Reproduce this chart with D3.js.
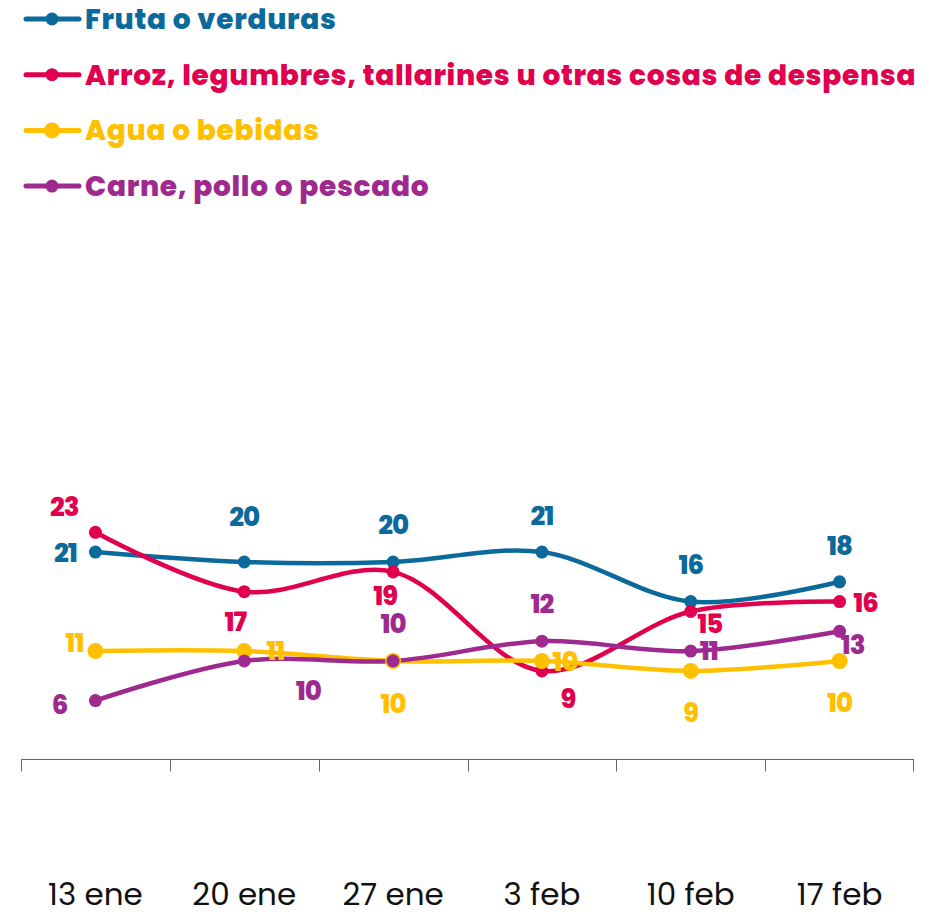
<!DOCTYPE html>
<html>
<head>
<meta charset="utf-8">
<script src="https://cdn.jsdelivr.net/npm/d3@7"></script>
<style>
  body { margin: 0; background: #fff; }
  svg { display: block; }
</style>
</head>
<body>
<svg id="chart" width="943" height="914"></svg>
<script>
// datos
let weeks = ['13 ene', '20 ene', '27 ene', '3 feb', '10 feb', '17 feb']
let seriesNames = ['Fruta o verduras', 'Arroz, legumbres, tallarines u otras cosas de despensa', 'Agua o bebidas', 'Carne, pollo o pescado']
let fruta = [21, 20, 20, 21, 16, 18]
let arroz = [23, 17, 19, 9, 15, 16]
let agua = [11, 11, 10, 10, 9, 10]
let carne = [6, 10, 10, 12, 11, 13]

let colors = ['#0b6a9b', '#e0004d', '#ffc000', '#9e2a8f']
let dotR = [6.5, 6.5, 8, 6.5]

// desplazamiento de las etiquetas respecto a cada punto
let labelOffsets = [
  [[-30, 1], [0, -45], [0, -37], [0, -36], [0, -37], [0, -36]],
  [[-31, -26], [-9, 30], [-8, 24], [26, 28], [19, 12], [26, 1]],
  [[-21, -8], [31, 0], [0, 43], [23, 1], [0, 42], [0, 42]],
  [[-36, 4], [64, 30], [0, -37], [0, -38], [18, 0], [13, 13]]
]

let values = [fruta, arroz, agua, carne]

let svg = d3.select('#chart')

let x = d3.scaleBand().domain(weeks).range([21, 914])
let y = d3.scaleLinear().domain([0, 50]).range([760, 265])

// eje
let axis = svg.append('g')
  .attr('transform', 'translate(0,759.5)')
  .call(d3.axisBottom(x).tickSize(0).tickFormat(d => d))
axis.select('.domain').attr('stroke', '#666').attr('d', 'M21,0H914')
axis.selectAll('text')
  .attr('y', 135)
  .attr('dy', '0.35em')
  .style('font-family', 'Poppins, "Open Sans", sans-serif')
  .style('font-size', '31px')
  .style('fill', '#111')
// separadores entre semanas
axis.selectAll('line.sep')
  .data(weeks.concat(['end']))
  .enter()
  .append('line')
  .attr('class', 'sep')
  .attr('x1', (d, i) => i < weeks.length ? Math.round(x(d)) + 0.5 : 913.5)
  .attr('x2', (d, i) => i < weeks.length ? Math.round(x(d)) + 0.5 : 913.5)
  .attr('y1', 0)
  .attr('y2', 12)
  .attr('stroke', '#666')

let line = d3.line()
  .x((d, i) => x(weeks[i]) + x.bandwidth() / 2)
  .y(d => y(d))
  .curve(d3.curveCatmullRom.alpha(0.5))

let plot = svg.append('g')

values.forEach(function (vals, s) {
  plot.append('path')
    .datum(vals)
    .attr('d', line)
    .attr('fill', 'none')
    .attr('stroke', colors[s])
    .attr('stroke-width', 4.5)
})

values.forEach(function (vals, s) {
  plot.append('g')
    .selectAll('circle')
    .data(vals)
    .enter()
    .append('circle')
    .attr('cx', (d, i) => x(weeks[i]) + x.bandwidth() / 2)
    .attr('cy', d => y(d))
    .attr('r', dotR[s])
    .attr('fill', colors[s])
})

values.forEach(function (vals, s) {
  plot.append('g')
    .selectAll('text')
    .data(vals)
    .enter()
    .append('text')
    .attr('x', (d, i) => x(weeks[i]) + x.bandwidth() / 2 + labelOffsets[s][i][0])
    .attr('y', (d, i) => y(d) + labelOffsets[s][i][1])
    .attr('dy', '0.36em')
    .attr('text-anchor', 'middle')
    .style('font-family', 'Poppins, "Open Sans", sans-serif')
    .style('font-weight', 800)
    .style('font-size', '26px')
    .style('letter-spacing', '-1px')
    .style('fill', colors[s])
    .text(d => d)
})

// leyenda
let legend = svg.append('g')
let rows = legend.selectAll('g')
  .data(seriesNames)
  .enter()
  .append('g')
  .attr('transform', (d, i) => `translate(0,${19 + i * 55.7})`)

rows.append('line')
  .attr('x1', 26).attr('x2', 79)
  .attr('stroke', (d, i) => colors[i])
  .attr('stroke-width', 5)
  .attr('stroke-linecap', 'round')
rows.append('circle')
  .attr('cx', 52)
  .attr('r', (d, i) => dotR[i])
  .attr('fill', (d, i) => colors[i])
rows.append('text')
  .attr('x', 85)
  .attr('dy', '0.36em')
  .style('font-family', 'Poppins, "Open Sans", sans-serif')
  .style('font-weight', 800)
  .style('font-size', '28px')
  .style('letter-spacing', '0.7px')
  .style('fill', (d, i) => colors[i])
  .text(d => d)
</script>
</body>
</html>
